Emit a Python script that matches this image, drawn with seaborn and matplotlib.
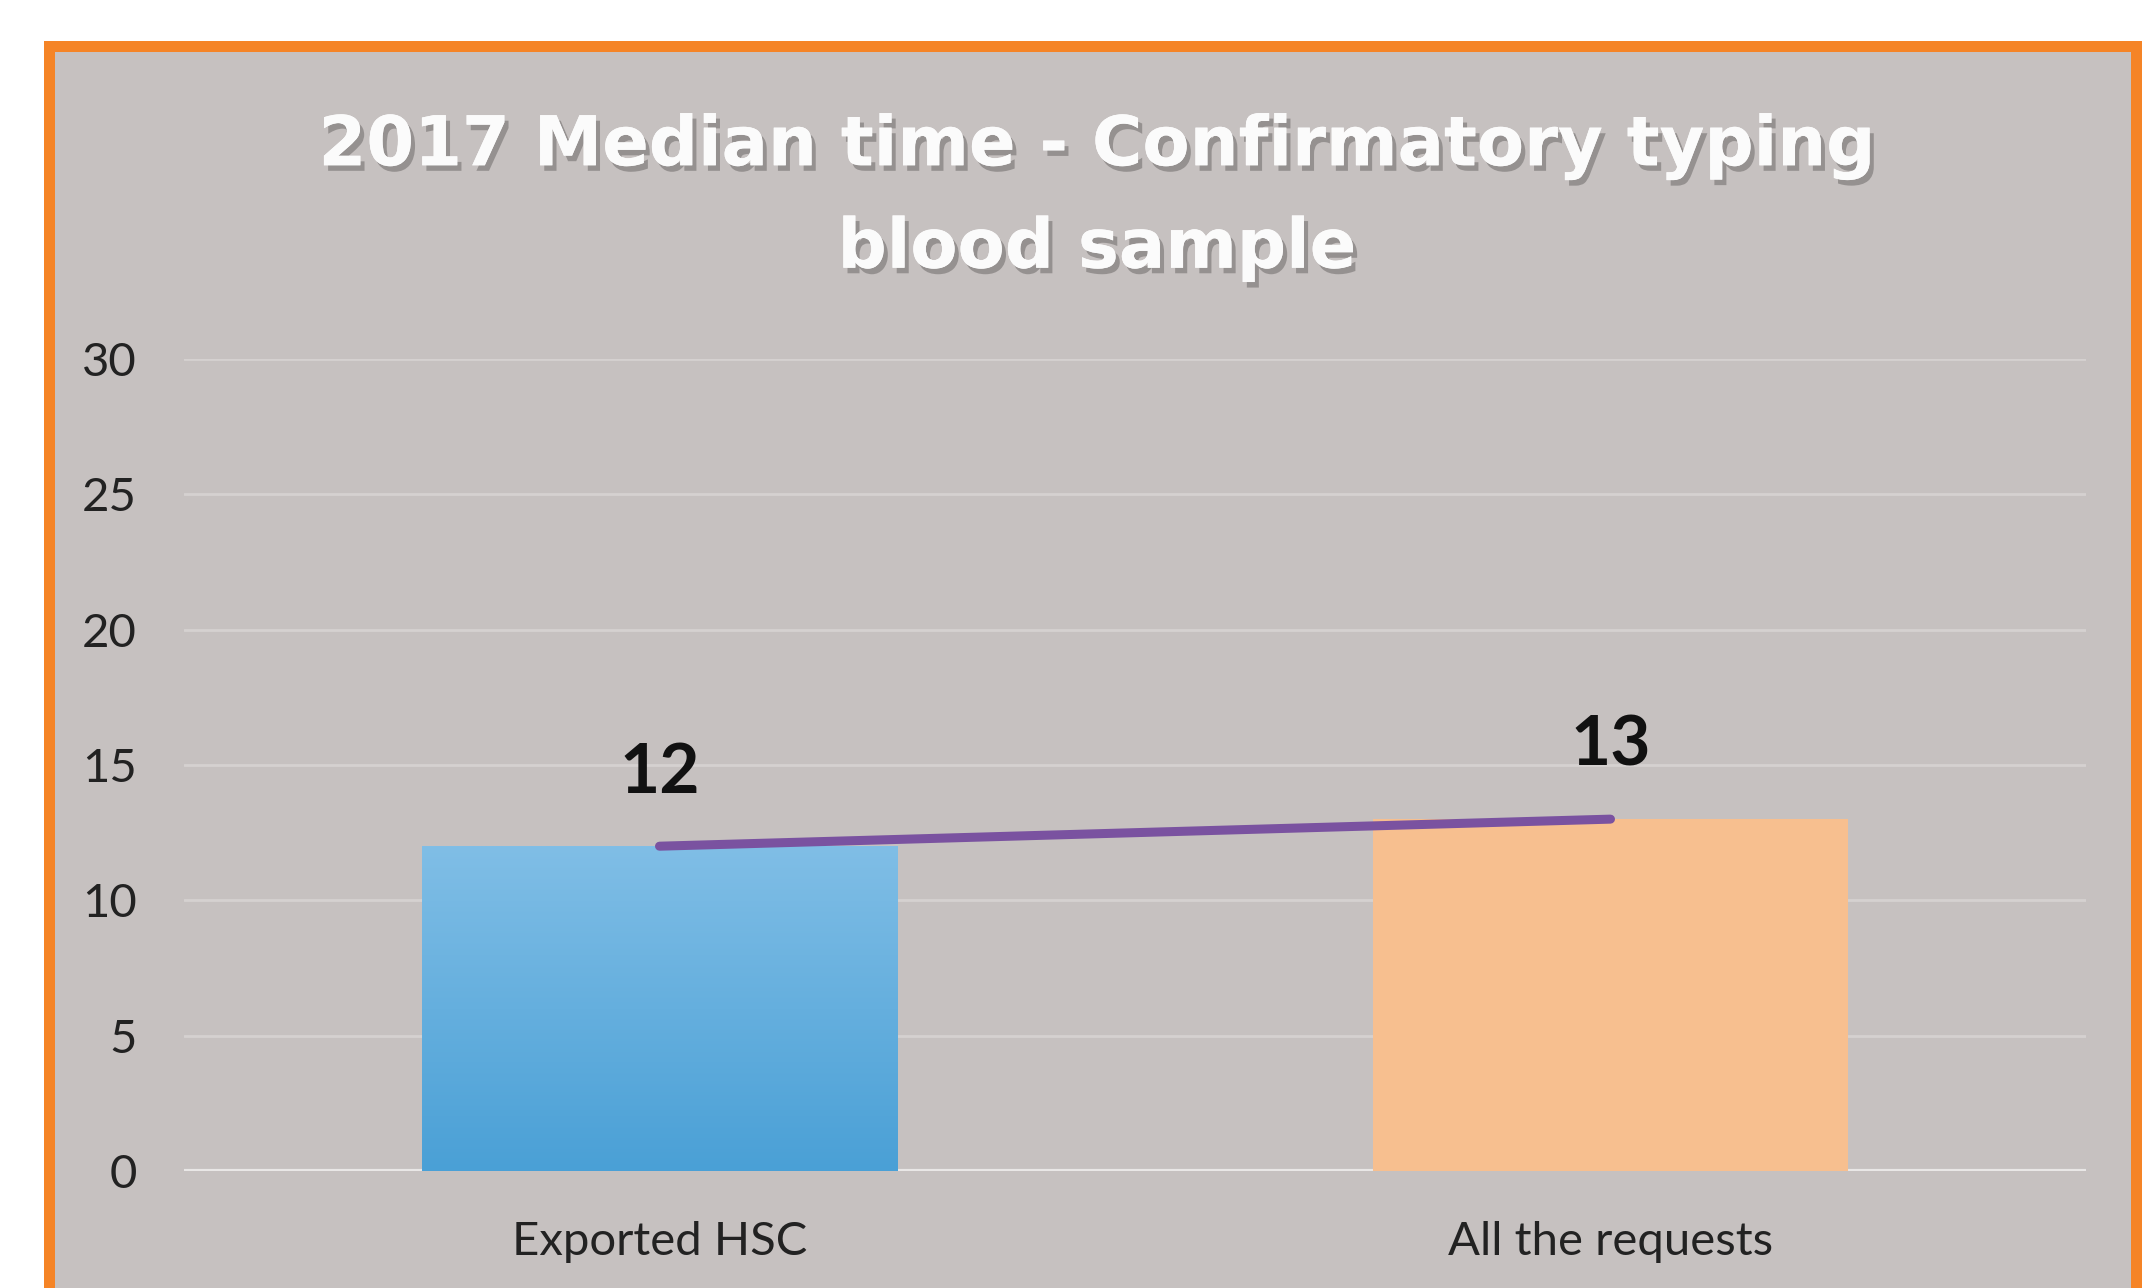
import numpy as np
import matplotlib
matplotlib.use("Agg")
import matplotlib.pyplot as plt
import matplotlib.patheffects as pe
from matplotlib.patches import Rectangle
import seaborn as sns

# chart data
categories = ["Exported HSC", "All the requests"]
median_days = [12, 13]
bar_colors = ["#5eacdc", "#f7bf8f"]
title = "2017 Median time - Confirmatory typing\nblood sample"
y_ticks = [0, 5, 10, 15, 20, 25, 30]

W, H = 2142, 1288
bg = "#c6c1c0"
narrow = ["Lato", "DejaVu Sans"]

sns.set_theme(style="white")
plt.rcParams["font.family"] = narrow

fig = plt.figure(figsize=(W / 100, H / 100), dpi=100)
fig.patch.set_facecolor("white")

# orange frame and grey panel
fig.patches.append(Rectangle((44 / W, -0.05), 1.0, (H - 41) / H + 0.05,
                             transform=fig.transFigure, facecolor="#f58426",
                             edgecolor="none", zorder=-3))
fig.patches.append(Rectangle((55 / W, -0.05), (2131 - 55) / W, (H - 52) / H + 0.05,
                             transform=fig.transFigure, facecolor=bg,
                             edgecolor="none", zorder=-2))

ax = fig.add_axes([184 / W, 117 / H, (2086 - 184) / W, (1171 - 359) / H])
ax.set_facecolor(bg)

sns.barplot(x=categories, y=median_days, hue=categories, palette=bar_colors,
            saturation=1, width=0.5, legend=False, ax=ax, zorder=3,
            edgecolor="none", linewidth=0)

# vertical gradient on the blue bar
blue_bar = ax.patches[0]
grad = np.linspace(0, 1, 256).reshape(-1, 1)
cmap = matplotlib.colors.LinearSegmentedColormap.from_list("b", ["#4aa0d6", "#80bee6"])
bx, bw = blue_bar.get_x(), blue_bar.get_width()
im = ax.imshow(grad, cmap=cmap, origin="lower", aspect="auto",
               extent=[bx, bx + bw, 0, median_days[0]], zorder=3.5)
im.set_clip_path(blue_bar)

# line joining the bar tops
sns.lineplot(x=[0, 1], y=median_days, color="#7a52a0", linewidth=6.5,
             ax=ax, zorder=4)

for i, v in enumerate(median_days):
    ax.text(i, v + 2.7, str(v), ha="center", va="center", fontsize=50,
            fontweight="bold", color="#111111", family=narrow, zorder=5)

ax.set_xlim(-0.5, 1.5)
ax.set_ylim(0, 30)
ax.set_yticks(y_ticks)
ax.yaxis.grid(True, color="#d5d1d0", linewidth=2, zorder=0)
ax.axhline(0, color="#e9e7e6", linewidth=3, zorder=2)
for s in ax.spines.values():
    s.set_visible(False)
ax.tick_params(axis="y", length=0, pad=34, labelsize=34, labelcolor="#222222")
ax.tick_params(axis="x", length=0, pad=36, labelsize=34, labelcolor="#222222")
ax.set_xlabel("")
ax.set_ylabel("")

fig.text(1097 / W, 1 - 197 / H, title, ha="center", va="center",
         fontsize=49.5, fontweight="bold", color="#fbfbfb", family=["DejaVu Sans"],
         linespacing=1.65,
         path_effects=[pe.withSimplePatchShadow(offset=(3, -4), shadow_rgbFace="#6e6a69", alpha=0.55),
                       pe.Normal()])

fig.savefig("out.png", dpi=100)
